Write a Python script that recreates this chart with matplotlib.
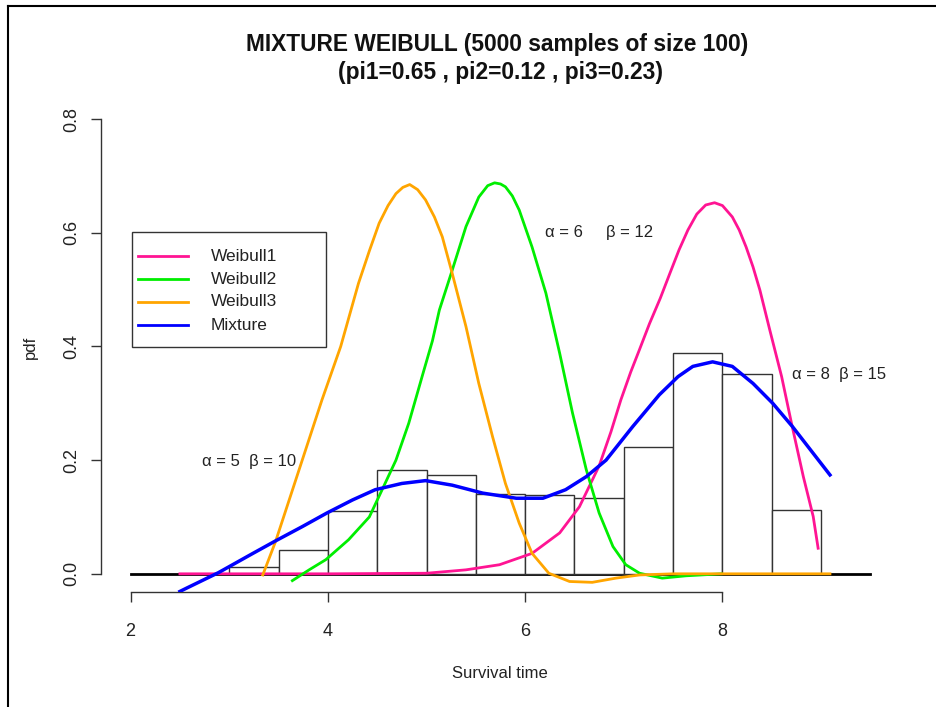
import matplotlib
matplotlib.use("Agg")
import matplotlib.pyplot as plt
from matplotlib.lines import Line2D
from matplotlib.patches import Rectangle

plt.rcParams['font.family'] = ['Liberation Sans', 'DejaVu Sans']

# Histogram (bin edges and densities)
bin_edges = [3.0, 3.5, 4.0, 4.5, 5.0, 5.5, 6.0, 6.5, 7.0, 7.5, 8.0, 8.5, 9.0]
densities = [0.012, 0.042, 0.111, 0.183, 0.174, 0.141, 0.139, 0.134, 0.223, 0.389, 0.352, 0.113]

# Weibull1 (pink) curve
w1_x = [2.5, 3.0, 4.0, 5.0, 5.4, 5.74, 6.07, 6.35, 6.55, 6.75, 6.87, 6.97, 7.07, 7.16, 7.26, 7.37, 7.47,
        7.56, 7.65, 7.74, 7.83, 7.92, 8.0, 8.1, 8.17, 8.24, 8.31, 8.38, 8.48, 8.6, 8.7, 8.82, 8.92, 8.97]
w1_y = [0.0, 0.0, 0.0, 0.001, 0.007, 0.016, 0.036, 0.072, 0.118, 0.19, 0.25, 0.306, 0.355, 0.395, 0.44, 0.485, 0.53,
        0.57, 0.605, 0.633, 0.649, 0.653, 0.648, 0.628, 0.605, 0.575, 0.54, 0.499, 0.429, 0.347, 0.265, 0.171, 0.101, 0.045]

# Weibull2 (green)
w2_x = [3.64, 3.81, 3.98, 4.21, 4.42, 4.55, 4.69, 4.82, 4.96, 5.06, 5.13, 5.26, 5.4, 5.53, 5.62, 5.69, 5.75,
        5.8, 5.87, 5.94, 6.07, 6.21, 6.35, 6.48, 6.62, 6.75, 6.89, 7.02, 7.16, 7.39, 7.63, 7.99]
w2_y = [-0.012, 0.007, 0.025, 0.06, 0.1, 0.148, 0.2, 0.265, 0.35, 0.41, 0.464, 0.534, 0.611, 0.663, 0.683, 0.688, 0.686,
        0.681, 0.665, 0.64, 0.575, 0.494, 0.388, 0.283, 0.183, 0.107, 0.048, 0.016, 0.001, -0.0076, -0.0035, 0.0]

# Weibull3 (orange)
w3_x = [3.34, 3.47, 3.74, 3.94, 4.13, 4.31, 4.42, 4.52, 4.61, 4.69, 4.76, 4.83, 4.91, 4.99, 5.08, 5.16, 5.26,
        5.4, 5.53, 5.67, 5.8, 5.94, 6.07, 6.24, 6.45, 6.68, 6.92, 7.16, 7.5, 8.0, 8.5, 9.09]
w3_y = [-0.002, 0.057, 0.2, 0.306, 0.4, 0.511, 0.568, 0.617, 0.648, 0.669, 0.68, 0.685, 0.676, 0.658, 0.628, 0.593, 0.529,
        0.435, 0.335, 0.241, 0.159, 0.089, 0.036, 0.001, -0.0135, -0.015, -0.0076, -0.002, 0.0, 0.0, 0.0, 0.0]

# Mixture (blue)
mx_x = [2.5, 2.57, 2.89, 3.23, 3.47, 3.74, 3.99, 4.25, 4.48, 4.75, 4.99, 5.26, 5.57, 5.91, 6.18, 6.41,
        6.62, 6.82, 7.09, 7.36, 7.55, 7.7, 7.9, 8.1, 8.31, 8.51, 8.71, 8.92, 9.09]
mx_y = [-0.031, -0.025, 0.002, 0.035, 0.058, 0.083, 0.107, 0.13, 0.148, 0.159, 0.164, 0.156, 0.142, 0.133, 0.133, 0.148,
        0.171, 0.2, 0.259, 0.315, 0.347, 0.365, 0.373, 0.365, 0.335, 0.3, 0.259, 0.212, 0.174]

legend_labels = ['Weibull1', 'Weibull2', 'Weibull3', 'Mixture']
legend_colors = ['#FF1493', '#00EE00', '#FFA500', '#0000FF']

W, H = 936, 707
fig = plt.figure(figsize=(W/100, H/100), dpi=100)
ax = fig.add_axes([101/W, 1-592/H, (900-101)/W, (592-101)/H])

def fx(px):
    return px / W

def fy(py):
    return 1 - py / H

# histogram
widths = [bin_edges[i+1]-bin_edges[i] for i in range(len(densities))]
ax.bar(bin_edges[:-1], densities, width=widths, align='edge', facecolor='white',
       edgecolor='#333333', linewidth=1.0, zorder=2)
ax.plot([2.0, 9.5], [0, 0], color='black', lw=2, zorder=1)

ax.plot(w1_x, w1_y, color=legend_colors[0], lw=2, zorder=3)
ax.plot(w2_x, w2_y, color=legend_colors[1], lw=2, zorder=3)
ax.plot(w3_x, w3_y, color=legend_colors[2], lw=2, zorder=3)
ax.plot(mx_x, mx_y, color=legend_colors[3], lw=2.5, zorder=4)

ax.set_xlim(1.7, 9.8)
ax.set_ylim(-0.032, 0.832)
ax.spines['top'].set_visible(False)
ax.spines['right'].set_visible(False)
ax.spines['bottom'].set_bounds(2, 8)
ax.spines['left'].set_bounds(0, 0.8)
for s in ('bottom', 'left'):
    ax.spines[s].set_color('#333333')
    ax.spines[s].set_linewidth(1.0)
ax.set_xticks([2, 4, 6, 8])
ax.set_yticks([0.0, 0.2, 0.4, 0.6, 0.8])
ax.set_yticklabels(['0.0', '0.2', '0.4', '0.6', '0.8'], rotation=90, va='center')
ax.tick_params(axis='both', direction='out', length=7, width=1.0, color='#333333',
               labelsize=13, labelcolor='#222222')
ax.tick_params(axis='x', pad=15)
ax.tick_params(axis='y', pad=8)

fig.text(fx(500), fy(673), 'Survival time', fontsize=12, color='#222222', ha='center', va='center')
fig.text(fx(30), fy(347), 'pdf', fontsize=12, color='#222222', ha='center', va='center', rotation=90)

fig.text(fx(497), fy(44), 'MIXTURE WEIBULL (5000 samples of size 100)', fontsize=16.4,
         fontweight='bold', ha='center', va='center', color='#111111')
fig.text(fx(500), fy(72), '(pi1=0.65 , pi2=0.12 , pi3=0.23)', fontsize=16.4,
         fontweight='bold', ha='center', va='center', color='#111111')

ax.text(2.72, 0.197, 'α = 5  β = 10', fontsize=12, color='#222222', va='center')
ax.text(6.2, 0.60, 'α = 6     β = 12', fontsize=12, color='#222222', va='center')
ax.text(8.71, 0.35, 'α = 8  β = 15', fontsize=12, color='#222222', va='center')

# legend box drawn manually (R-style layout)
fig.add_artist(Rectangle((fx(132), fy(347)), (326-132)/W, (347-232)/H, transform=fig.transFigure,
                         facecolor='white', edgecolor='#333333', lw=1.0, zorder=5))
rows = [256, 279, 302, 325]
for lab, col, py in zip(legend_labels, legend_colors, rows):
    fig.add_artist(Line2D([fx(138), fx(188)], [fy(py), fy(py)], color=col, lw=2,
                          transform=fig.transFigure, zorder=6))
    fig.text(fx(211), fy(py), lab, fontsize=12.5, color='#222222', va='center', ha='left', zorder=6)

# outer frame
fig.add_artist(Line2D([fx(8), fx(8)], [0, fy(6)], color='black', lw=1.5, transform=fig.transFigure))
fig.add_artist(Line2D([fx(8), 1], [fy(6), fy(6)], color='black', lw=1.5, transform=fig.transFigure))

fig.savefig('out.png', dpi=100)
